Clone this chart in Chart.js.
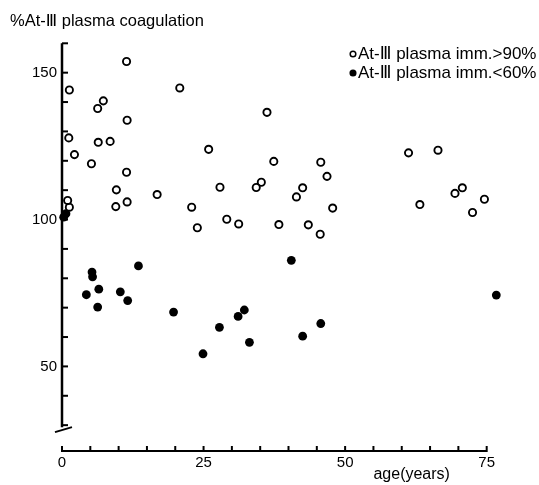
<!DOCTYPE html>
<html>
<head>
<meta charset="utf-8">
<script src="https://cdn.jsdelivr.net/npm/chart.js@4"></script>
<style>
  html, body { margin: 0; padding: 0; background: #fff; }
  #wrap { width: 539px; height: 485px; }
</style>
</head>
<body>
<div id="wrap"><canvas id="chart" width="539" height="485"></canvas></div>
<script>
const FONT = "'Liberation Sans', Arial, 'DejaVu Sans', sans-serif";

const titleText = '%At-Ⅲ plasma coagulation';
const xTitle = 'age(years)';
const seriesLabels = ['At-Ⅲ plasma imm.>90%', 'At-Ⅲ plasma imm.<60%'];

const xTicks = [0, 5, 10, 15, 20, 25, 30, 35, 40, 45, 50, 55, 60, 65, 70, 75];
const xLabelTicks = [0, 25, 50, 75];
const yTicks = [30, 40, 50, 60, 70, 80, 90, 100, 110, 120, 130, 140, 150, 160];
const yLabelTicks = [50, 100, 150];

// open circles: plasma imm. > 90%
const highAge = [11.4, 1.3, 20.8, 7.3, 6.3, 11.5, 1.2, 6.4, 8.5, 2.2, 5.2, 11.4, 9.6, 16.8, 11.5,
  9.5, 1.3, 1.0, 22.9, 23.9, 36.2, 25.9, 37.4, 45.7, 46.8, 27.9, 35.2, 34.3, 42.5, 41.4,
  47.8, 29.1, 31.2, 38.3, 43.5, 45.6, 61.2, 66.4, 70.7, 69.4, 63.2, 74.6, 72.5];
const highPct = [153.8, 144.1, 144.8, 140.4, 137.8, 133.8, 127.8, 126.3, 126.6, 122.1, 119.0, 116.1, 110.1, 108.5, 106.0,
  104.4, 104.2, 106.5, 104.2, 97.2, 136.5, 123.9, 119.8, 119.5, 114.7, 111.0, 112.7, 110.9, 110.8, 107.7,
  103.9, 100.1, 98.5, 98.3, 98.2, 95.0, 122.7, 123.6, 110.8, 108.9, 105.1, 106.9, 102.4];

// filled circles: plasma imm. < 60%
const lowAge = [0.7, 0.3, 5.3, 5.4, 13.5, 6.5, 4.3, 10.3, 11.6, 6.3,
  19.7, 24.9, 27.8, 31.1, 32.2, 33.1, 40.5, 42.5, 45.7, 76.7];
const lowPct = [102.0, 100.8, 82.1, 80.5, 84.2, 76.3, 74.4, 75.4, 72.4, 70.2,
  68.5, 54.3, 63.3, 67.0, 69.2, 58.2, 86.1, 60.3, 64.6, 74.3];

const toPoints = (xs, ys) => xs.map((v, i) => ({ x: v, y: ys[i] }));

// axes with inward ticks, axis break, x title, key
const drawAxes = {
  id: 'drawAxes',
  beforeDatasetsDraw(chart) {
    const { ctx, scales: { x, y }, chartArea } = chart;
    const x0 = x.getPixelForValue(0);
    const x75 = x.getPixelForValue(75);
    const yb = chartArea.bottom;
    const yTop = y.getPixelForValue(160);
    const y30 = y.getPixelForValue(30);
    ctx.save();
    ctx.strokeStyle = '#000';
    ctx.lineWidth = 2.5;
    ctx.beginPath();
    ctx.moveTo(x0, yTop);
    ctx.lineTo(x0, y30 + 2);
    ctx.stroke();
    ctx.lineWidth = 2;
    yTicks.forEach(v => {
      const py = y.getPixelForValue(v);
      ctx.beginPath();
      ctx.moveTo(x0, py);
      ctx.lineTo(x0 + 6, py);
      ctx.stroke();
    });
    ctx.beginPath();
    ctx.moveTo(x0 - 7, y30 + 7);
    ctx.lineTo(x0 + 10, y30 + 2);
    ctx.stroke();

    ctx.beginPath();
    ctx.moveTo(x0, yb);
    ctx.lineTo(x75, yb);
    ctx.stroke();
    xTicks.forEach(v => {
      const px = x.getPixelForValue(v);
      ctx.beginPath();
      ctx.moveTo(px, yb + 1);
      ctx.lineTo(px, yb - 5);
      ctx.stroke();
    });

    ctx.fillStyle = '#000';
    ctx.font = '16px ' + FONT;
    ctx.textAlign = 'left';
    ctx.textBaseline = 'middle';
    ctx.fillText(xTitle, x.getPixelForValue(55), yb + 24);
    ctx.restore();
  },
  afterDraw(chart) {
    const { ctx } = chart;
    ctx.save();
    ctx.font = '17px ' + FONT;
    ctx.textAlign = 'left';
    ctx.textBaseline = 'middle';
    chart.data.datasets.forEach((ds, i) => {
      const cy = 54 + i * 19;
      ctx.beginPath();
      ctx.arc(353, cy, 2.8, 0, Math.PI * 2);
      ctx.fillStyle = ds.pointBackgroundColor;
      ctx.fill();
      ctx.lineWidth = 1.5;
      ctx.strokeStyle = '#000';
      ctx.stroke();
      ctx.fillStyle = '#000';
      ctx.fillText(ds.label, 358, cy);
    });
    ctx.restore();
  }
};

new Chart(document.getElementById('chart'), {
  type: 'scatter',
  data: {
    datasets: [{
      label: seriesLabels[0],
      data: toPoints(highAge, highPct),
      pointStyle: 'circle',
      pointRadius: 3.6,
      pointBorderWidth: 1.9,
      pointBorderColor: '#000',
      pointBackgroundColor: '#fff',
      clip: false
    }, {
      label: seriesLabels[1],
      data: toPoints(lowAge, lowPct),
      pointStyle: 'circle',
      pointRadius: 4.4,
      pointBorderWidth: 0,
      pointBorderColor: '#000',
      pointBackgroundColor: '#000',
      clip: false
    }]
  },
  options: {
    responsive: false,
    animation: false,
    devicePixelRatio: 1,
    layout: { padding: { left: 10, right: 24, top: 0, bottom: 0 } },
    scales: {
      x: {
        type: 'linear',
        min: 0,
        max: 80,
        grid: { display: false, drawTicks: false },
        border: { display: false },
        afterBuildTicks: s => { s.ticks = xTicks.map(v => ({ value: v })); },
        afterFit: s => { s.height = 34; },
        ticks: {
          autoSkip: false,
          maxRotation: 0,
          padding: 3,
          color: '#000',
          font: { size: 15, family: FONT },
          callback: v => xLabelTicks.includes(v) ? String(v) : ''
        }
      },
      y: {
        min: 21.2,
        max: 160,
        grid: { display: false, drawTicks: false },
        border: { display: false },
        afterBuildTicks: s => { s.ticks = yTicks.map(v => ({ value: v })); },
        afterFit: s => { s.width = 52; },
        ticks: {
          padding: 5,
          color: '#000',
          font: { size: 15, family: FONT },
          callback: v => yLabelTicks.includes(v) ? String(v) : ''
        }
      }
    },
    plugins: {
      legend: { display: false },
      tooltip: { enabled: false },
      title: {
        display: true,
        text: titleText,
        align: 'start',
        color: '#000',
        font: { size: 16.5, weight: 'normal', family: FONT },
        padding: { top: 12, bottom: 11.5 }
      }
    }
  },
  plugins: [drawAxes]
});
</script>
</body>
</html>
